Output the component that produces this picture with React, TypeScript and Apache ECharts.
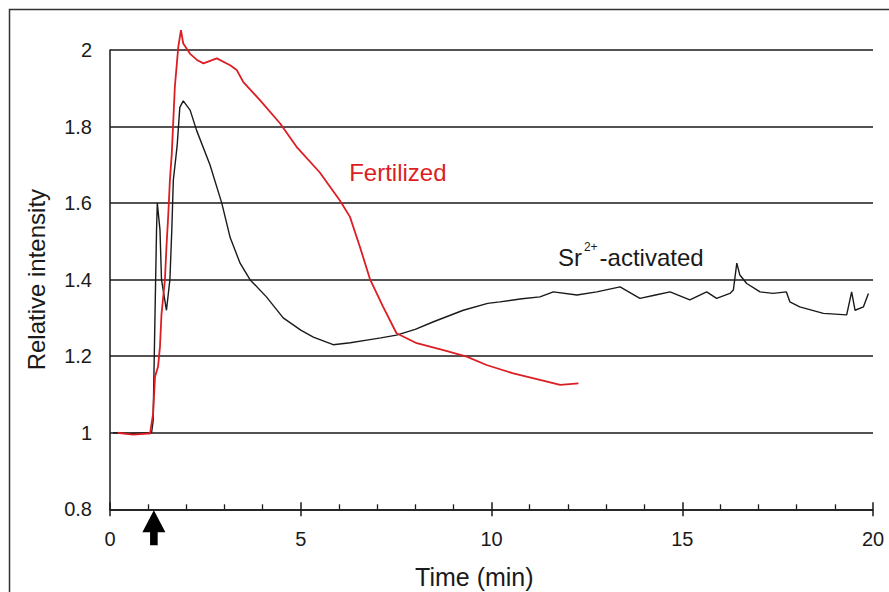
import React, { useEffect, useRef } from "react";
import * as echarts from "echarts";

// Sr2+-activated trace (time in min, relative intensity)
const SR_TIME = [
  0.08, 0.5, 1.0, 1.09, 1.13, 1.18, 1.22, 1.24, 1.31, 1.35, 1.48, 1.57, 1.62, 1.66,
  1.76, 1.83, 1.92, 2.1, 2.27, 2.62, 2.93, 3.15, 3.41, 3.67, 4.1, 4.54, 5.0, 5.33,
  5.85, 6.3, 6.73, 7.1, 7.51, 8.0, 8.48, 9.26, 9.9, 10.22, 10.8, 11.27, 11.62, 12.24,
  12.76, 13.37, 13.89, 14.3, 14.68, 15.2, 15.64, 15.9, 16.25, 16.34, 16.43, 16.51,
  16.69, 17.04, 17.38, 17.73, 17.82, 18.08, 18.7, 19.31, 19.44, 19.53, 19.75, 19.88,
];
const SR_VALUE = [
  1.0, 0.998, 1.0, 1.0, 1.03, 1.31, 1.53, 1.6, 1.53, 1.4, 1.32, 1.4, 1.53, 1.66,
  1.75, 1.85, 1.867, 1.843, 1.79, 1.7, 1.6, 1.51, 1.443, 1.4, 1.355, 1.3, 1.268, 1.25,
  1.23, 1.235, 1.242, 1.248, 1.255, 1.27, 1.29, 1.32, 1.338, 1.342, 1.35, 1.355, 1.368, 1.36,
  1.368, 1.381, 1.351, 1.36, 1.368, 1.347, 1.368, 1.351, 1.364, 1.373, 1.443, 1.412,
  1.39, 1.368, 1.364, 1.368, 1.342, 1.329, 1.312, 1.308, 1.368, 1.32, 1.329, 1.364,
];

// Fertilized trace
const FERT_TIME = [
  0.2, 0.6, 1.0, 1.05, 1.13, 1.18, 1.26, 1.31, 1.35, 1.44, 1.48, 1.53, 1.57, 1.62,
  1.7, 1.79, 1.86, 1.92, 2.1, 2.28, 2.45, 2.8, 3.15, 3.32, 3.49, 3.93, 4.46, 4.89,
  5.5, 6.03, 6.29, 6.55, 6.82, 7.16, 7.51, 8.04, 8.74, 9.35, 9.87, 10.57, 11.27,
  11.8, 12.28,
];
const FERT_VALUE = [
  1.0, 0.995, 0.998, 0.998, 1.05, 1.146, 1.173, 1.225, 1.31, 1.4, 1.486, 1.574, 1.66, 1.73,
  1.904, 2.008, 2.052, 2.017, 1.99, 1.974, 1.965, 1.978, 1.96, 1.948, 1.917, 1.869, 1.808, 1.747,
  1.68, 1.606, 1.564, 1.486, 1.4, 1.329, 1.26, 1.234, 1.216, 1.199, 1.177, 1.155, 1.138,
  1.125, 1.129,
];

const Y_TICKS = [0.8, 1, 1.2, 1.4, 1.6, 1.8, 2];
const X_TICKS = [0, 5, 10, 15, 20];
const ARROW_TIME = 1.15;
const FERT_LABEL_POS = [6.27, 1.679];
const SR_LABEL_POS = [11.74, 1.467];

const FONT = "Liberation Sans, Arial, sans-serif";
const RED = "#dc1e24";
const INK = "#1a1a1a";

function zip(a: number[], b: number[]) {
  return a.map((t, i) => [t, b[i]]);
}

export default function App() {
  const ref = useRef<HTMLDivElement>(null);
  useEffect(() => {
    document.body.style.margin = "0";
    const chart = echarts.init(ref.current!, null, { renderer: "svg" });
    const option: any = {
      animation: false,
      backgroundColor: "#ffffff",
      grid: { left: 110, top: 50, width: 763, height: 459.3, containLabel: false },
      xAxis: [
        {
          type: "value",
          min: X_TICKS[0],
          max: X_TICKS[X_TICKS.length - 1],
          interval: 5,
          axisLine: { show: true, lineStyle: { color: INK, width: 1.5 } },
          axisTick: { show: true, inside: true, length: 7, lineStyle: { color: INK, width: 1.5 } },
          minorTick: { show: true, splitNumber: 5, length: 5, lineStyle: { color: INK, width: 1.3 } },
          axisLabel: { color: INK, fontSize: 20, fontFamily: FONT, margin: 20 },
          splitLine: { show: false },
        },
        {
          type: "value",
          position: "bottom",
          min: X_TICKS[0],
          max: X_TICKS[X_TICKS.length - 1],
          interval: 5,
          axisLine: { show: false },
          axisTick: { show: true, inside: false, length: 7, lineStyle: { color: INK, width: 1.5 } },
          axisLabel: { show: false },
          splitLine: { show: false },
        },
      ],
      yAxis: {
        type: "value",
        min: Y_TICKS[0],
        max: Y_TICKS[Y_TICKS.length - 1],
        interval: 0.2,
        axisLine: { show: true, lineStyle: { color: INK, width: 1.5 } },
        axisTick: { show: false },
        axisLabel: {
          color: INK,
          fontSize: 20,
          fontFamily: FONT,
          margin: 18,
          formatter: (v: number) => String(Math.round(v * 10) / 10),
        },
        splitLine: { show: true, lineStyle: { color: INK, width: 1.5 } },
        name: "Relative intensity",
        nameLocation: "middle",
        nameGap: 62,
        nameTextStyle: { color: INK, fontSize: 24, fontFamily: FONT },
      },
      series: [
        {
          name: "Sr2+-activated",
          type: "line",
          data: zip(SR_TIME, SR_VALUE),
          showSymbol: false,
          clip: false,
          lineStyle: { color: INK, width: 1.4 },
          itemStyle: { color: INK },
          z: 3,
        },
        {
          name: "Fertilized",
          type: "line",
          data: zip(FERT_TIME, FERT_VALUE),
          showSymbol: false,
          clip: false,
          lineStyle: { color: RED, width: 1.8 },
          itemStyle: { color: RED },
          z: 4,
        },
      ],
    };
    chart.setOption(option);

    const [ax, ay] = chart.convertToPixel({ gridIndex: 0 }, [ARROW_TIME, Y_TICKS[0]]) as number[];
    const [fx, fy] = chart.convertToPixel({ gridIndex: 0 }, FERT_LABEL_POS) as number[];
    const [sx, sy] = chart.convertToPixel({ gridIndex: 0 }, SR_LABEL_POS) as number[];
    const [cx] = chart.convertToPixel({ gridIndex: 0 }, [9.55, 1]) as number[];

    chart.setOption({
      graphic: [
        {
          type: "rect",
          shape: { x: 9.5, y: 9.5, width: 1000, height: 1000 },
          style: { fill: "none", stroke: "#333", lineWidth: 1.5 },
          silent: true,
          z: 0,
        },
        {
          type: "polygon",
          shape: {
            points: [
              [ax, ay + 1],
              [ax + 11.5, ay + 23],
              [ax + 3.8, ay + 23],
              [ax + 3.8, ay + 36],
              [ax - 3.8, ay + 36],
              [ax - 3.8, ay + 23],
              [ax - 11.5, ay + 23],
            ],
          },
          style: { fill: "#000" },
          z: 10,
        },
        {
          type: "text",
          x: fx,
          y: fy,
          style: {
            text: "Fertilized",
            fill: RED,
            fontSize: 24,
            fontFamily: FONT,
            align: "left",
            verticalAlign: "middle",
          },
          z: 10,
        },
        {
          type: "text",
          x: sx,
          y: sy,
          style: {
            text: "{a|Sr}{s|2+}{a|-activated}",
            align: "left",
            verticalAlign: "middle",
            rich: {
              a: { fill: INK, fontSize: 24, fontFamily: FONT, lineHeight: 30, verticalAlign: "bottom" },
              s: { fill: INK, fontSize: 12, fontFamily: FONT, lineHeight: 30, verticalAlign: "top", padding: [2, 2, 0, 2] },
            },
          },
          z: 10,
        },
        {
          type: "text",
          x: cx,
          y: 577,
          style: {
            text: "Time (min)",
            fill: INK,
            fontSize: 25,
            fontFamily: FONT,
            align: "center",
            verticalAlign: "middle",
          },
          z: 10,
        },
      ],
    });
    return () => chart.dispose();
  }, []);
  return <div ref={ref} style={{ width: 889, height: 592 }} />;
}
